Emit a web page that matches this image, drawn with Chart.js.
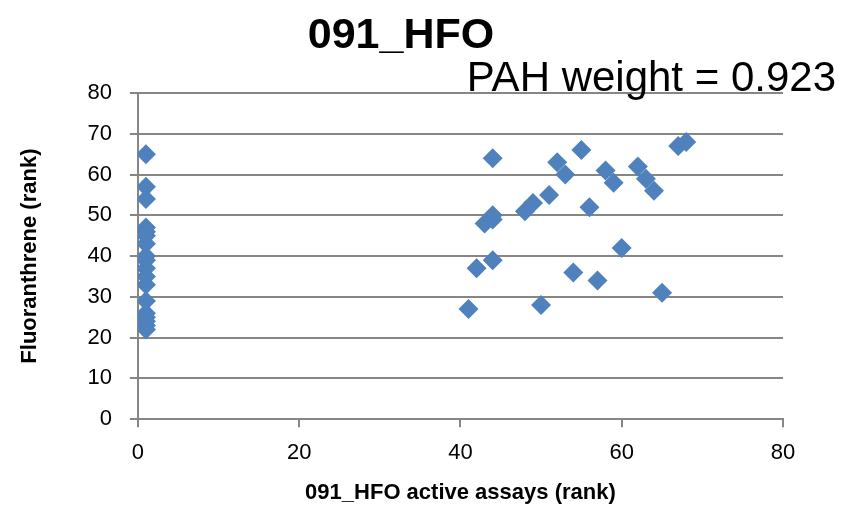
<!DOCTYPE html>
<html>
<head>
<meta charset="utf-8">
<script src="https://cdn.jsdelivr.net/npm/chart.js@4"></script>
<style>
  html, body { margin: 0; padding: 0; background: #fff; }
  #wrap { width: 846px; height: 505px; }
</style>
</head>
<body>
<div id="wrap"><canvas id="c" width="846" height="505"></canvas></div>
<script>
const chartTitle = '091_HFO';
const subTitle = 'PAH weight = 0.923';
const xAxisTitle = '091_HFO active assays (rank)';
const yAxisTitle = 'Fluoranthrene (rank)';

const xValues = [1, 1, 1, 1, 1, 1, 1, 1, 1, 1, 1, 1, 1, 1, 1, 1, 1, 1,
  41, 42, 43, 44, 44, 44, 44, 48, 49, 50, 51, 52, 53, 54, 55, 56, 57, 58, 59, 60, 62, 63, 64, 65, 67, 68];
const yValues = [65, 57, 54, 47, 46, 45, 43, 40, 39, 37, 35, 33, 29, 26, 25, 24, 23, 22,
  27, 37, 48, 50, 49, 39, 64, 51, 53, 28, 55, 63, 60, 36, 66, 52, 34, 61, 58, 42, 62, 59, 56, 31, 67, 68];

const points = xValues.map((x, i) => ({ x: x, y: yValues[i] }));

const FONT = "'Liberation Sans', Arial, sans-serif";
const GRID = '#868686';

const textPlugin = {
  id: 'texts',
  afterDraw(chart) {
    const ctx = chart.ctx;
    ctx.save();
    ctx.fillStyle = '#000';
    ctx.textBaseline = 'alphabetic';
    ctx.textAlign = 'center';
    ctx.font = "bold 43px " + FONT;
    ctx.fillText(chartTitle, 401, 48);
    ctx.textAlign = 'right';
    ctx.font = "42px " + FONT;
    ctx.fillText(subTitle, 836, 91);
    ctx.restore();
  }
};

new Chart(document.getElementById('c'), {
  type: 'scatter',
  data: {
    datasets: [{
      data: points,
      pointStyle: 'rectRot',
      pointRadius: 10,
      pointHoverRadius: 10,
      backgroundColor: '#4F81BD',
      borderColor: '#4A7EBB',
      borderWidth: 0
    }]
  },
  options: {
    responsive: false,
    animation: false,
    layout: { padding: { top: 93, right: 63, bottom: -1, left: 17 } },
    plugins: {
      legend: { display: false },
      tooltip: { enabled: false }
    },
    scales: {
      x: {
        type: 'linear',
        min: 0, max: 80,
        ticks: { stepSize: 20, color: '#000', font: { family: FONT, size: 22 }, padding: 13 },
        grid: { drawOnChartArea: false, drawTicks: true, tickLength: 8, color: GRID, lineWidth: 2 },
        border: { color: GRID, width: 2 },
        title: { display: true, text: xAxisTitle, color: '#000', font: { family: FONT, size: 22, weight: 'bold' }, padding: { top: 0, bottom: 0 } }
      },
      y: {
        type: 'linear',
        min: 0, max: 80,
        ticks: { stepSize: 10, color: '#000', font: { family: FONT, size: 22 }, padding: 18 },
        grid: { drawOnChartArea: true, drawTicks: true, tickLength: 8, color: GRID, lineWidth: 2 },
        border: { color: GRID, width: 2 },
        title: { display: true, text: yAxisTitle, color: '#000', font: { family: FONT, size: 22, weight: 'bold' }, padding: { top: 0, bottom: 26 } }
      }
    }
  },
  plugins: [textPlugin]
});
</script>
</body>
</html>
